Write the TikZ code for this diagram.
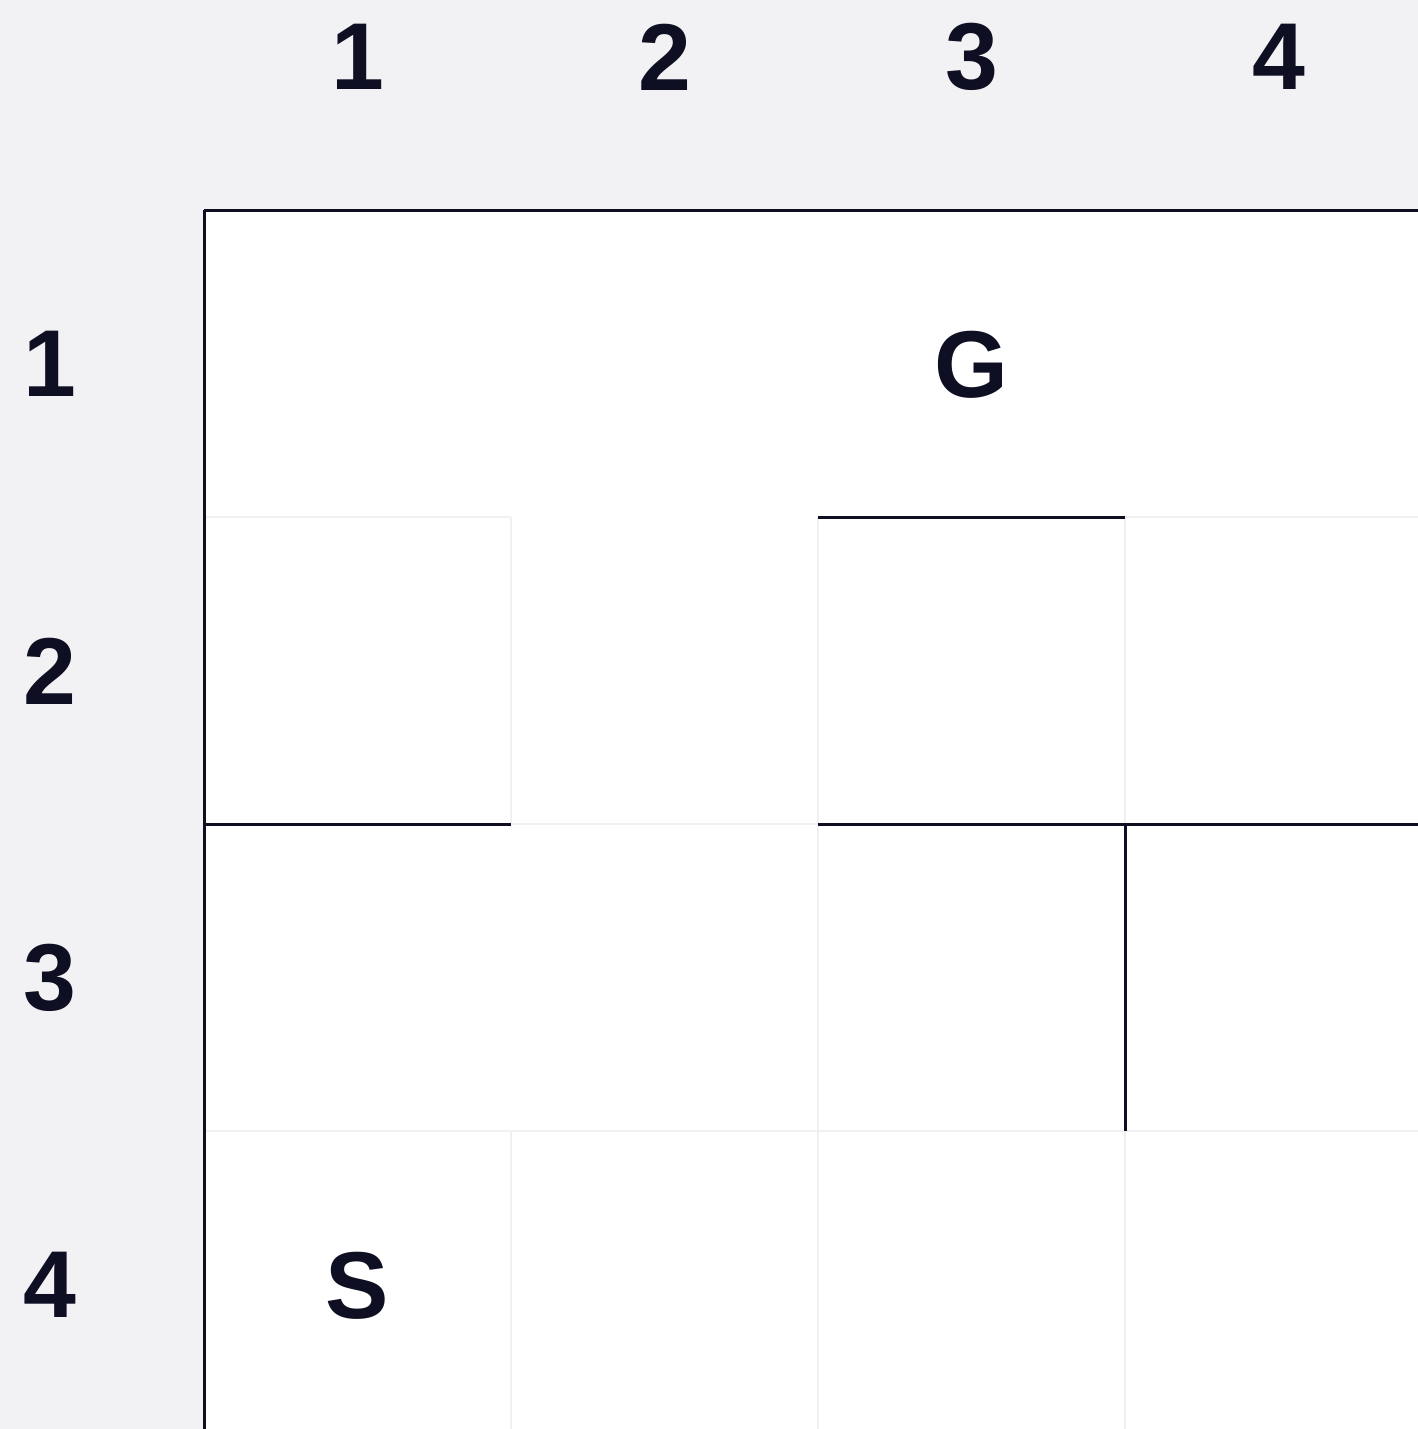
\documentclass[tikz,border=0pt]{standalone}
\usepackage{fontspec}
\setmainfont{Liberation Sans}
\definecolor{bg}{HTML}{F2F2F4}
\definecolor{ink}{HTML}{0F0F23}
\definecolor{thin}{HTML}{F0F0F2}
\begin{document}
\begin{tikzpicture}[x=1pt,y=-1pt,
  lbl/.style={font=\fontsize{95}{100}\selectfont\bfseries, text=ink, inner sep=0pt, anchor=center},
  wall/.style={draw=ink, line width=3pt},
  grid/.style={draw=thin, line width=2.5pt}]
\useasboundingbox (0,0) rectangle (1418,1429);
\fill[bg] (0,0) rectangle (1418,1429);
\fill[white] (204,210) rectangle (1418,1429);
% light grid segments
\draw[grid] (204,517) -- (511,517);
\draw[grid] (1125,517) -- (1418,517);
\draw[grid] (511,824) -- (818,824);
\draw[grid] (204,1131) -- (1418,1131);
\draw[grid] (511,517) -- (511,824);
\draw[grid] (511,1131) -- (511,1429);
\draw[grid] (818,517) -- (818,1429);
\draw[grid] (1125,517) -- (1125,824);
\draw[grid] (1125,1131) -- (1125,1429);
% walls
\draw[wall] (204,210) -- (1418,210);
\draw[wall] (204,210) -- (204,1429);
\draw[wall] (818,517) -- (1125,517);
\draw[wall] (204,824) -- (511,824);
\draw[wall] (818,824) -- (1418,824);
\draw[wall] (1125,824) -- (1125,1131);
% column labels
\node[lbl] (c1) at (357.5,57) {1};
\node[lbl] (c2) at (664.5,57) {2};
\node[lbl] (c3) at (971.5,57) {3};
\node[lbl] (c4) at (1278.5,57) {4};
% row labels
\node[lbl] (r1) at (50,364) {1};
\node[lbl] (r2) at (50,671) {2};
\node[lbl] (r3) at (50,978) {3};
\node[lbl] (r4) at (50,1285) {4};
% goal and start
\node[lbl] (goal) at (971.5,365) {G};
\node[lbl] (start) at (357.5,1286) {S};
\end{tikzpicture}
\end{document}
